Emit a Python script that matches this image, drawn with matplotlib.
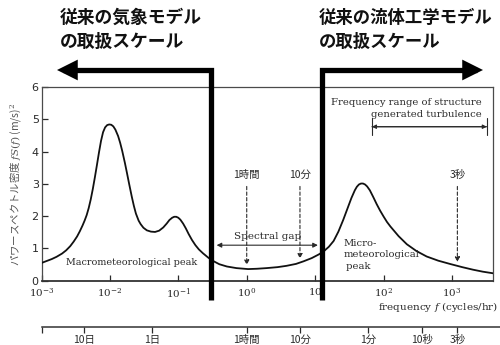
import numpy as np
import matplotlib
matplotlib.use("Agg")
import matplotlib.pyplot as plt
from matplotlib.patches import FancyArrowPatch
from matplotlib.path import Path
from matplotlib.ticker import FixedLocator, NullLocator

plt.rcParams['font.family'] = ['Noto Sans CJK JP', 'DejaVu Sans']
plt.rcParams['mathtext.fontset'] = 'dejavuserif'

# Wind-speed power spectrum (van der Hoven type), log10 frequency in cycles/hr
log_freq = [-3.00, -2.95, -2.85, -2.78, -2.70, -2.64, -2.58, -2.53, -2.48, -2.44,
            -2.40, -2.37, -2.34, -2.31, -2.28, -2.25, -2.22, -2.19, -2.16, -2.13,
            -2.10, -2.07, -2.04, -2.01, -1.98, -1.95, -1.92, -1.88, -1.85, -1.82,
            -1.78, -1.75, -1.72, -1.68, -1.65, -1.62, -1.58, -1.55, -1.51, -1.46,
            -1.40, -1.34, -1.28, -1.22, -1.17, -1.13, -1.09, -1.06, -1.03, -1.00,
            -0.97, -0.93, -0.89, -0.85, -0.80, -0.75, -0.70, -0.64, -0.56, -0.49,
            -0.40, -0.29, -0.15, 0.02, 0.15, 0.29, 0.45, 0.58, 0.72, 0.83,
            0.95, 1.05, 1.12, 1.20, 1.27, 1.34, 1.41, 1.47, 1.53, 1.58,
            1.61, 1.64, 1.67, 1.70, 1.73, 1.76, 1.80, 1.85, 1.90, 1.95,
            2.00, 2.05, 2.10, 2.22, 2.34, 2.48, 2.63, 2.80, 2.97, 3.15,
            3.31, 3.45, 3.60]
spectrum = [0.55, 0.59, 0.67, 0.74, 0.84, 0.94, 1.07, 1.21, 1.37, 1.53,
            1.71, 1.86, 2.03, 2.25, 2.52, 2.84, 3.20, 3.58, 3.97, 4.33,
            4.60, 4.75, 4.82, 4.84, 4.83, 4.78, 4.68, 4.48, 4.27, 4.02,
            3.64, 3.33, 3.01, 2.60, 2.32, 2.08, 1.86, 1.75, 1.64, 1.56,
            1.52, 1.51, 1.55, 1.65, 1.77, 1.88, 1.95, 1.98, 1.98, 1.95,
            1.89, 1.77, 1.62, 1.45, 1.26, 1.10, 0.97, 0.85, 0.71, 0.61,
            0.51, 0.44, 0.39, 0.36, 0.37, 0.39, 0.42, 0.46, 0.52, 0.60,
            0.70, 0.81, 0.90, 1.05, 1.23, 1.52, 1.88, 2.22, 2.56, 2.80,
            2.91, 2.98, 3.01, 3.01, 2.98, 2.92, 2.80, 2.59, 2.37, 2.17,
            1.99, 1.82, 1.68, 1.38, 1.13, 0.92, 0.75, 0.62, 0.52, 0.42,
            0.34, 0.28, 0.23]

freq_ticks = [1e-3, 1e-2, 1e-1, 1e0, 1e1, 1e2, 1e3]
freq_tick_labels = [r'$10^{-3}$', r'$10^{-2}$', r'$10^{-1}$', r'$10^{0}$',
                    r'$10$', r'$10^{2}$', r'$10^{3}$']
y_ticks = [0, 1, 2, 3, 4, 5, 6]

# Period scale below the frequency axis (period -> cycles/hr)
period_labels = ['10日', '1日', '1時間', '10分', '1分', '10秒', '3秒']
period_freqs = [1 / 240, 1 / 24, 1.0, 6.0, 60.0, 360.0, 1200.0]

# Dashed markers on the spectrum
marker_labels = ['1時間', '10分', '3秒']
marker_freqs = [1.0, 6.0, 1200.0]

W, H = 500, 345
fig = plt.figure(figsize=(W / 100, H / 100), dpi=100)
fig.patch.set_facecolor('white')


def fx(px):
    return px / W


def fy(py):
    return 1 - py / H


ink = '#2a2a2a'
x_lo, x_hi = 1e-3, 10 ** 3.60

ax = fig.add_axes([fx(41.5), fy(280.7), fx(493) - fx(41.5), fy(87) - fy(280.7)])
freq = 10 ** np.array(log_freq)
ax.plot(freq, spectrum, color='#111111', lw=1.3, zorder=3,
        solid_joinstyle='round')
ax.set_xscale('log')
ax.set_xlim(x_lo, x_hi)
ax.set_ylim(0, 6)
ax.xaxis.set_major_locator(FixedLocator(freq_ticks))
ax.xaxis.set_minor_locator(NullLocator())
ax.set_xticklabels(freq_tick_labels)
ax.set_yticks(y_ticks)
ax.tick_params(axis='both', direction='in', length=4, width=0.9, colors=ink,
               labelsize=8)
ax.tick_params(axis='x', pad=4, labelsize=7.5)
ax.tick_params(axis='y', pad=2)
for lab in ax.get_yticklabels():
    lab.set_fontfamily('DejaVu Sans')
for s in ax.spines.values():
    s.set_color('#4a4a4a')
    s.set_linewidth(0.9)
ax.spines['bottom'].set_linewidth(1.3)
ax.spines['bottom'].set_color('#333333')

ax.set_ylabel('パワースペクトル密度 $fS(f)$ (m/s)$^2$', fontsize=7.5, color='#555555',
              labelpad=6)

# Dashed arrows pointing at the spectrum
for lab, f in zip(marker_labels, marker_freqs):
    y_tip = np.interp(np.log10(f), log_freq, spectrum) + 0.12
    ax.annotate('', xy=(f, y_tip), xytext=(f, 2.92),
                arrowprops=dict(arrowstyle='-|>', linestyle=(0, (3, 2)), lw=0.8,
                                color=ink, mutation_scale=7, shrinkA=0, shrinkB=0))
    ax.text(f, 3.27, lab, ha='center', va='center', fontsize=7.5, color=ink)

# Spectral gap
ax.annotate('', xy=(10 ** -0.44, 1.1), xytext=(10 ** 1.04, 1.1),
            arrowprops=dict(arrowstyle='<|-|>', lw=0.8, color=ink,
                            mutation_scale=7, shrinkA=0, shrinkB=0))
ax.text(10 ** 0.30, 1.38, 'Spectral gap', ha='center', va='center',
        fontsize=7.5, family='DejaVu Serif', color=ink)

# Structure-generated turbulence range
for style in ('<|-|>', '|-|'):
    ax.annotate('', xy=(10 ** 1.83, 4.77), xytext=(10 ** 3.51, 4.77),
                arrowprops=dict(arrowstyle=style, lw=0.8, color=ink,
                                mutation_scale=6, shrinkA=0, shrinkB=0))
ax.text(10 ** 3.44, 5.52, 'Frequency range of structure', ha='right', va='center',
        fontsize=7.2, family='DejaVu Serif', color=ink)
ax.text(10 ** 3.44, 5.14, 'generated turbulence', ha='right', va='center',
        fontsize=7.2, family='DejaVu Serif', color=ink)

ax.text(10 ** -1.68, 0.56, 'Macrometeorological peak', ha='center', va='center',
        fontsize=6.9, family='DejaVu Serif', color=ink)
ax.text(10 ** 1.41, 0.81, 'Micro-\nmeteorological\n peak', ha='left', va='center',
        fontsize=7.2, family='DejaVu Serif', color=ink, linespacing=1.35)

fig.text(fx(498), fy(307), 'frequency $f$ (cycles/hr)', ha='right', va='center',
         fontsize=7.5, family='DejaVu Serif', color=ink)

# Period axis
t_right = 10 ** (-3 + 6.60 * (500 - 41.5) / (493 - 41.5))
axt = fig.add_axes([fx(41.5), fy(327), fx(500) - fx(41.5), 1e-4])
axt.set_xscale('log')
axt.set_xlim(x_lo, t_right)
axt.patch.set_visible(False)
for side in ('top', 'left', 'right'):
    axt.spines[side].set_visible(False)
axt.spines['bottom'].set_color('#333333')
axt.spines['bottom'].set_linewidth(1.1)
axt.set_yticks([])
axt.xaxis.set_major_locator(FixedLocator([x_lo] + period_freqs))
axt.xaxis.set_minor_locator(NullLocator())
axt.set_xticklabels([''] + period_labels)
axt.tick_params(axis='x', direction='out', length=4, width=0.9, colors=ink,
                labelsize=7.5, pad=2)

# Thick bracket arrows marking model scale ranges
lw_thick = 3.8
left_path = Path([(fx(211), fy(300)), (fx(211), fy(70)), (fx(57), fy(70))])
right_path = Path([(fx(322), fy(300)), (fx(322), fy(70)), (fx(483), fy(70))])
for p in (left_path, right_path):
    arr = FancyArrowPatch(path=p, arrowstyle='-|>', mutation_scale=22,
                          lw=lw_thick, color='black', joinstyle='miter',
                          capstyle='butt', transform=fig.transFigure, zorder=10)
    fig.add_artist(arr)

fig.text(fx(60), fy(17.5), '従来の気象モデル', ha='left', va='center',
         fontsize=12.8, fontweight='bold', color='#111111')
fig.text(fx(60), fy(41.5), 'の取扱スケール', ha='left', va='center',
         fontsize=12.8, fontweight='bold', color='#111111')
fig.text(fx(319), fy(17.5), '従来の流体工学モデル', ha='left', va='center',
         fontsize=12.5, fontweight='bold', color='#111111')
fig.text(fx(319), fy(41.5), 'の取扱スケール', ha='left', va='center',
         fontsize=12.5, fontweight='bold', color='#111111')

fig.savefig('out.png', dpi=100)
